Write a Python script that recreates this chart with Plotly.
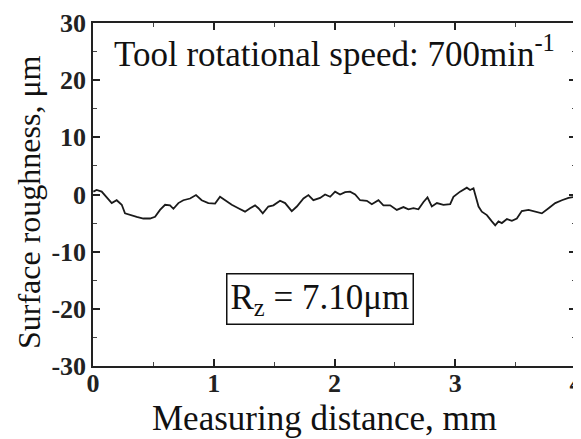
import plotly.graph_objects as go

distance_mm = [0.003, 0.030, 0.072, 0.113, 0.155, 0.196, 0.238, 0.265, 0.307, 0.362,
               0.417, 0.472, 0.514, 0.555, 0.597, 0.638, 0.666, 0.707, 0.748, 0.804,
               0.853, 0.900, 0.955, 1.011, 1.052, 1.094, 1.149, 1.204, 1.259, 1.301,
               1.342, 1.370, 1.406, 1.452, 1.494, 1.549, 1.591, 1.646, 1.688, 1.743,
               1.784, 1.825, 1.881, 1.922, 1.964, 2.005, 2.046, 2.088, 2.129, 2.171,
               2.212, 2.268, 2.309, 2.364, 2.405, 2.461, 2.516, 2.571, 2.612, 2.654,
               2.695, 2.737, 2.770, 2.806, 2.848, 2.902, 2.958, 2.985, 3.040, 3.096,
               3.123, 3.151, 3.165, 3.193, 3.220, 3.262, 3.303, 3.331, 3.358, 3.386,
               3.428, 3.469, 3.510, 3.551, 3.607, 3.662, 3.717, 3.773, 3.828, 3.883,
               3.938, 3.993]
roughness_um = [0.5, 0.8, 0.5, -0.4, -1.5, -1.0, -1.8, -3.3, -3.6, -3.9,
                -4.2, -4.2, -3.9, -2.7, -1.8, -1.9, -2.5, -1.5, -1.0, -0.7,
                -0.1, -1.0, -1.5, -1.6, -0.4, -1.0, -1.8, -2.4, -3.0, -2.4,
                -1.9, -2.4, -3.3, -2.1, -1.9, -1.1, -1.5, -2.9, -2.1, -0.7,
                -0.1, -1.0, -0.6, 0.0, -0.4, 0.5, 0.0, 0.4, 0.5, 0.0,
                -1.0, -1.1, -1.7, -1.0, -1.9, -1.9, -2.7, -2.2, -2.6, -2.4,
                -2.6, -1.3, -0.5, -2.1, -1.5, -1.8, -1.7, -0.4, 0.5, 1.2,
                0.8, 1.1, 0.0, -2.1, -3.0, -3.6, -4.7, -5.4, -4.7, -5.0,
                -4.3, -4.6, -4.2, -2.9, -2.7, -3.0, -3.3, -2.4, -1.5, -1.0,
                -0.6, -0.4]

x_ticks = [0, 1, 2, 3, 4]
y_ticks = [-30, -20, -10, 0, 10, 20, 30]

FONT = "Liberation Serif"

fig = go.Figure()
fig.add_trace(go.Scatter(x=distance_mm, y=roughness_um, mode="lines",
                         line=dict(color="#1a1a1a", width=1.8), showlegend=False))

axis_common = dict(showline=True, linecolor="#222", linewidth=1.5, mirror="ticks",
                   ticks="inside", ticklen=7, tickwidth=1.5, tickcolor="#222",
                   showgrid=False, zeroline=False, automargin=False,
                   ticklabeloverflow="allow",
                   tickfont=dict(family=FONT, size=26, color="#222", weight="bold"),
                   minor=dict(ticks="inside", ticklen=4, tickwidth=1.2, tickcolor="#444"))

fig.update_xaxes(range=[0, 4], tickvals=x_ticks, ticktext=[str(v) for v in x_ticks],
                 minor_dtick=0.5, ticklabelstandoff=-7, **axis_common)
fig.update_yaxes(range=[-30, 30], tickvals=y_ticks, ticktext=[str(v) for v in y_ticks],
                 minor_dtick=5, **axis_common)

fig.add_annotation(x=0.479, y=-0.152, xref="paper", yref="paper", showarrow=False,
                   text="Measuring distance, mm", xanchor="center", yanchor="middle",
                   font=dict(family=FONT, size=35, color="#111"))
fig.add_annotation(x=-0.1325, y=0.478, xref="paper", yref="paper", showarrow=False,
                   text="Surface roughness, μm", textangle=-90, xanchor="center", yanchor="middle",
                   font=dict(family=FONT, size=32, color="#111"))

fig.add_annotation(x=2.0, y=25, xref="x", yref="y", showarrow=False,
                   text="Tool rotational speed: 700min<sup>-1</sup>",
                   font=dict(family=FONT, size=35, color="#111"))
fig.add_annotation(x=1.88, y=-18.3, xref="x", yref="y", showarrow=False,
                   text="R<sub>z</sub> = 7.10μm",
                   font=dict(family=FONT, size=35, color="#111"),
                   bordercolor="#111", borderwidth=1.5, borderpad=3, bgcolor="white")

fig.update_layout(width=573, height=431, margin=dict(l=85, r=5, t=15, b=73),
                  paper_bgcolor="white", plot_bgcolor="white")

fig.write_html("out.html")
